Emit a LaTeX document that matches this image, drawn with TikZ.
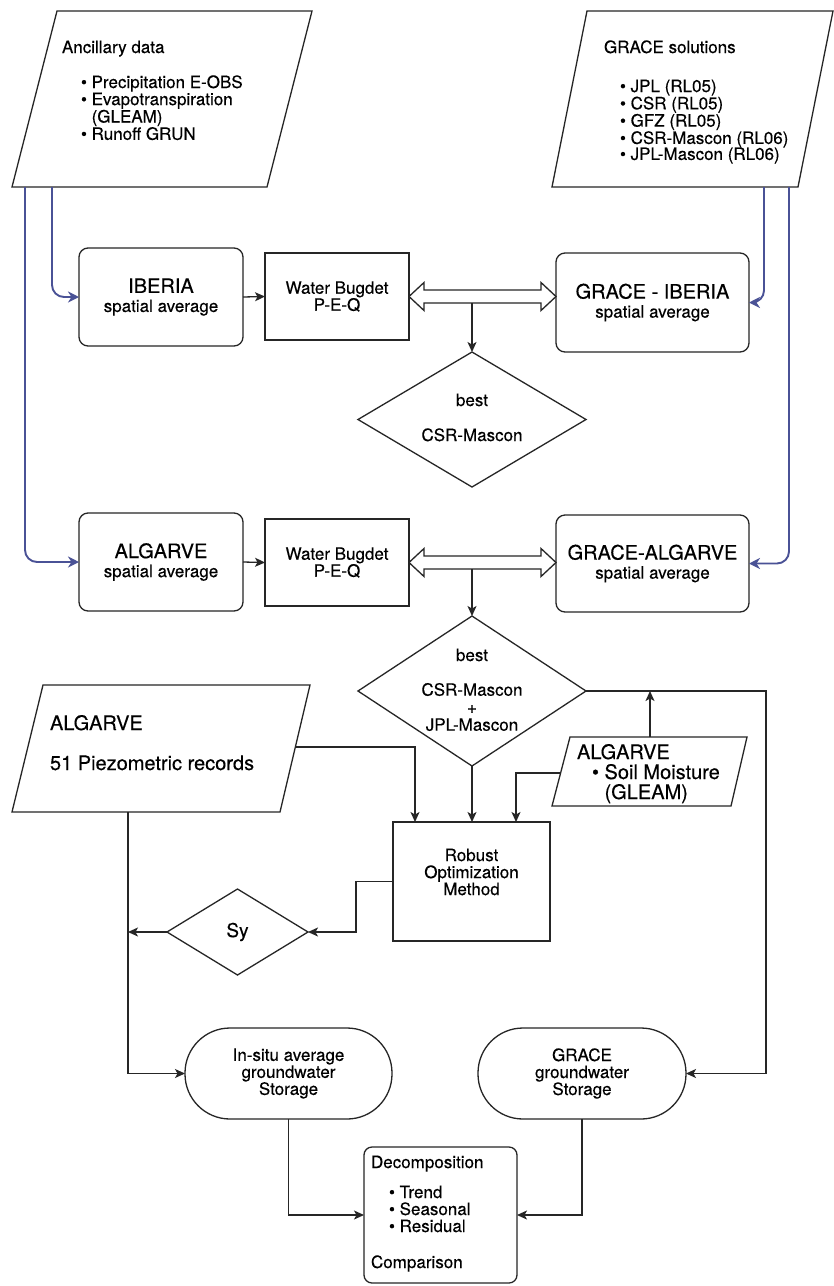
\documentclass[tikz,border=0pt]{standalone}
\usepackage{fontspec}
\setmainfont{TeX Gyre Heros}[FakeBold=0.35]
\usetikzlibrary{shapes.geometric,arrows.meta,calc}
\definecolor{flowblue}{RGB}{74,82,150}
\newcommand\fsz[2]{\fontsize{#1}{#2}\selectfont}
\begin{document}
\begin{tikzpicture}[x=1pt,y=-1pt,
  every node/.style={inner sep=0pt, outer sep=0pt},
  ln/.style={line width=1.3pt, draw=black!85},
  arr/.style={ln, -{Stealth[length=10pt,width=9pt,inset=2.5pt]}},
  barr/.style={line width=1.9pt, draw=flowblue, rounded corners=12pt, -{Stealth[length=11pt,width=11pt,inset=3.5pt]}},
  rbox/.style={draw=black!85, line width=1.3pt, rounded corners=9pt, align=center, font=\fsz{17}{19}},
  sbox/.style={draw=black!85, line width=1.3pt, align=center, font=\fsz{17}{17}},
  dia/.style={draw=black!85, line width=1.3pt, diamond},
  stad/.style={draw=black!85, line width=1.3pt, rounded corners=45pt, align=center, font=\fsz{17}{17}},
  txt/.style={font=\fsz{17}{16}},
  bigtxt/.style={font=\fsz{20}{20}},
  shp/.style={draw=black!85, line width=1.3pt, line join=miter},
]
\fill[white] (0,0) rectangle (834,1286);
\useasboundingbox (0,0) rectangle (834,1286);

% ---------- parallelograms (input data) ----------
\coordinate (anc-nw) at (57,11);  \coordinate (anc-ne) at (312,11);
\coordinate (anc-se) at (267,187); \coordinate (anc-sw) at (12,187);
\draw[shp] (anc-nw) -- (anc-ne) -- (anc-se) -- (anc-sw) -- cycle;
\coordinate (anc-o) at (25,187); \coordinate (anc-i) at (52,187);

\coordinate (gr-nw) at (587,11);  \coordinate (gr-ne) at (833,11);
\coordinate (gr-se) at (798,187); \coordinate (gr-sw) at (552,187);
\draw[shp] (gr-nw) -- (gr-ne) -- (gr-se) -- (gr-sw) -- cycle;
\coordinate (gr-i) at (764,187); \coordinate (gr-o) at (789,187);

\coordinate (pz-nw) at (43,685);  \coordinate (pz-ne) at (310,685);
\coordinate (pz-se) at (280,812); \coordinate (pz-sw) at (12,812);
\draw[shp] (pz-nw) -- (pz-ne) -- (pz-se) -- (pz-sw) -- cycle;
\coordinate (pz-r) at (295.4,747); \coordinate (pz-b) at (128,812);

\coordinate (sm-nw) at (570,737);  \coordinate (sm-ne) at (747,737);
\coordinate (sm-se) at (731,806); \coordinate (sm-sw) at (552,806);
\draw[shp] (sm-nw) -- (sm-ne) -- (sm-se) -- (sm-sw) -- cycle;
\coordinate (sm-l) at (560.6,773); \coordinate (sm-t) at (650,737);

% texts of parallelograms
\node[txt, anchor=base west] (anc-title) at (62,53) {Ancillary data};
\node[txt, anchor=base west] (anc-list) at (81,88) {\vtop{\hbox{\textbullet\ Precipitation E-OBS}\hbox{\textbullet\ Evapotranspiration}\hbox{\phantom{\textbullet\ }(GLEAM)}\hbox{\textbullet\ Runoff GRUN}}};

\node[txt, anchor=base west] (gr-title) at (604,53) {GRACE solutions};
\node[txt, anchor=base west] (gr-list) at (620,92) {\vtop{\hbox{\textbullet\ JPL (RL05)}\hbox{\textbullet\ CSR (RL05)}\hbox{\textbullet\ GFZ (RL05)}\hbox{\textbullet\ CSR-Mascon (RL06)}\hbox{\textbullet\ JPL-Mascon (RL06)}}};

\node[bigtxt, anchor=base west] (pz-t1) at (50,730) {ALGARVE};
\node[bigtxt, anchor=base west] (pz-t2) at (50,770) {51 Piezometric records};

\node[bigtxt, anchor=base west] (sm-t1) at (577,759) {ALGARVE};
\node[bigtxt, anchor=base west] (sm-t2) at (592,779) {\vtop{\hbox{\textbullet\ Soil Moisture}\hbox{\phantom{\textbullet\ }(GLEAM)}}};

% ---------- row 1 ----------
\node[rbox, minimum width=164, minimum height=98] (ib) at (161,297) {{\fsz{20}{20}IBERIA}\\spatial average};
\node[sbox, minimum width=144, minimum height=87] (wb1) at (337,296.5) {Water Bugdet\\P-E-Q};
\node[rbox, minimum width=193, minimum height=99] (gi) at (652.5,302.5) {{\fsz{20}{20}GRACE - IBERIA}\\spatial average};
\node[dia, minimum width=228, minimum height=135] (d1) at (472,419.5) {};
\node[txt, anchor=base] (d1-t1) at (472,406) {best};
\node[txt, anchor=base] (d1-t2) at (472,441) {CSR-Mascon};

% ---------- row 2 ----------
\node[rbox, minimum width=164, minimum height=98] (alg) at (161,562) {{\fsz{20}{20}ALGARVE}\\spatial average};
\node[sbox, minimum width=144, minimum height=87] (wb2) at (337,562.5) {Water Bugdet\\P-E-Q};
\node[rbox, minimum width=193, minimum height=97] (ga) at (652.5,563.5) {{\fsz{20}{20}GRACE-ALGARVE}\\spatial average};
\node[dia, minimum width=228, minimum height=150] (d2) at (472,691) {};
\node[txt, anchor=base] (d2-t1) at (472,661) {best};
\node[txt, align=center, font=\fsz{17}{17.5}] (d2-t2) at (472,707) {CSR-Mascon\\+\\JPL-Mascon};

% ---------- lower part ----------
\node[sbox, minimum width=157, minimum height=119] (rob) at (471.5,881.5) {};
\node[txt, align=center, font=\fsz{17}{17}] (rob-t) at (471.5,872) {Robust\\Optimization\\Method};
\node[dia, minimum width=141, minimum height=86, font=\fsz{19}{19}] (sy) at (237.5,932) {Sy};
\node[stad, minimum width=207, minimum height=91] (insitu) at (288.5,1073.5) {In-situ average\\groundwater\\Storage};
\node[stad, minimum width=208, minimum height=91] (gs) at (582,1073.5) {GRACE\\groundwater\\Storage};
\node[draw=black!85, line width=1.3pt, rounded corners=8pt, minimum width=153, minimum height=136] (dec) at (440.5,1215) {};
\node[txt, anchor=base west] (dec-t1) at (371,1168) {Decomposition};
\node[txt, anchor=base west, font=\fsz{17}{17}] (dec-t2) at (389,1198) {\vtop{\hbox{\textbullet\ Trend}\hbox{\textbullet\ Seasonal}\hbox{\textbullet\ Residual}}};
\node[txt, anchor=base west] (dec-t3) at (371,1268) {Comparison};

% ---------- blue connectors ----------
\draw[barr] (anc-i) |- (ib.west);
\draw[barr] (anc-o) |- (alg.west);
\draw[barr] (gr-i) |- (gi.east);
\draw[barr] (gr-o) |- (ga.east);

% ---------- black connectors ----------
\draw[arr] (ib.east) -- (wb1.west);
\draw[arr] (alg.east) -- (wb2.west);

% double arrows
\coordinate (da1l) at (wb1.east);
\coordinate (da1r) at (wb1.east -| gi.west);
\coordinate (da1b) at ($(wb1.east)+(0,6.5)$);
\draw[shp, fill=white] (da1l) -- ($(da1l)+(15,-14)$) -- ($(da1l)+(15,-6.5)$) -- ($(da1r)+(-15,-6.5)$) -- ($(da1r)+(-15,-14)$) -- (da1r) -- ($(da1r)+(-15,14)$) -- ($(da1r)+(-15,6.5)$) -- ($(da1l)+(15,6.5)$) -- ($(da1l)+(15,14)$) -- cycle;
\draw[arr] (d1.north |- da1b) -- (d1.north);

\coordinate (da2l) at (wb2.east);
\coordinate (da2r) at (wb2.east -| ga.west);
\coordinate (da2b) at ($(wb2.east)+(0,6.5)$);
\draw[shp, fill=white] (da2l) -- ($(da2l)+(15,-14)$) -- ($(da2l)+(15,-6.5)$) -- ($(da2r)+(-15,-6.5)$) -- ($(da2r)+(-15,-14)$) -- (da2r) -- ($(da2r)+(-15,14)$) -- ($(da2r)+(-15,6.5)$) -- ($(da2l)+(15,6.5)$) -- ($(da2l)+(15,14)$) -- cycle;
\draw[arr] (d2.north |- da2b) -- (d2.north);

\draw[arr] (d2.east) -- ++(180,0) |- (gs.east);
\draw[arr] (sm-t) -- (sm-t |- d2.east);
\draw[arr] (sm-l) -| ($(rob.north east)+(-34,0)$);
\draw[arr] (pz-r) -| ($(rob.north west)+(22,0)$);
\draw[arr] (d2.south) -- (d2.south |- rob.north);
\draw[arr] (rob.west) -- ++(-37,0) |- (sy.east);
\draw[arr] (sy.west) -- (sy.west -| pz-b);
\draw[arr] (pz-b) |- (insitu.west);
\draw[arr] (insitu.south) |- (dec.west);
\draw[arr] (gs.south) |- (dec.east);
\end{tikzpicture}
\end{document}
